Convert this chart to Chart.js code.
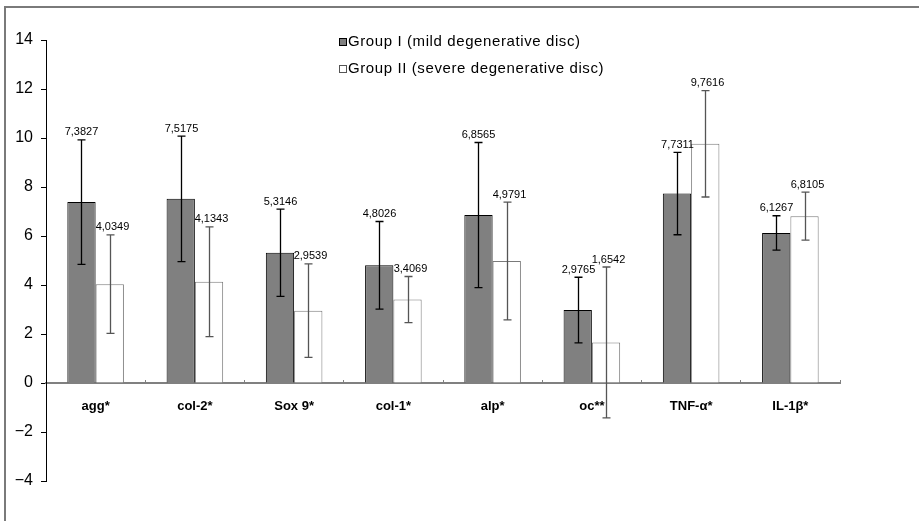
<!DOCTYPE html>
<html>
<head>
<meta charset="utf-8">
<script src="https://cdn.jsdelivr.net/npm/chart.js@4"></script>
<style>
  html, body { margin: 0; padding: 0; background: #fff; }
  #wrap { position: relative; width: 919px; height: 521px; }
  #frame { position: absolute; left: 4px; top: 6px; right: 0; bottom: 0;
           border-top: 2px solid #7a7a7a; border-left: 2px solid #7a7a7a; }
  canvas { position: absolute; left: 0; top: 0; }
</style>
</head>
<body>
<div id="wrap">
  <div id="frame"></div>
  <canvas id="chart"></canvas>
</div>
<script>
const categories = ['agg*', 'col-2*', 'Sox 9*', 'col-1*', 'alp*', 'oc**', 'TNF-α*', 'IL-1β*'];
const seriesNames = ['Group I (mild degenerative disc)', 'Group II (severe degenerative disc)'];
const groupI = [7.3827, 7.5175, 5.3146, 4.8026, 6.8565, 2.9765, 7.7311, 6.1267];
const groupII = [4.0349, 4.1343, 2.9539, 3.4069, 4.9791, 1.6542, 9.7616, 6.8105];
const sdI = [2.54, 2.56, 1.78, 1.79, 2.96, 1.34, 1.68, 0.70];
const sdII = [2.01, 2.24, 1.91, 0.94, 2.40, 3.08, 2.17, 0.98];
const yMin = -4, yMax = 14, yStep = 2;

const FONT = "'Liberation Sans', Arial, sans-serif";
const fmt = v => v.toFixed(4).replace('.', ',');

// error bars + value labels on top of the bars
const errorBars = {
    id: 'errorBars',
    afterDatasetsDraw(chart) {
        const { ctx, scales: { y } } = chart;
        chart.data.datasets.forEach((ds, i) => {
            const meta = chart.getDatasetMeta(i);
            ctx.save();
            ctx.strokeStyle = ds.errColor;
            ctx.lineWidth = 1.3;
            meta.data.forEach((bar, j) => {
                const v = ds.data[j], e = ds.sd[j];
                const x = Math.round(bar.x) + 0.5;
                const top = y.getPixelForValue(v + e);
                const bot = y.getPixelForValue(v - e);
                ctx.beginPath();
                ctx.moveTo(x, top); ctx.lineTo(x, bot);
                ctx.moveTo(x - 4, top); ctx.lineTo(x + 4, top);
                ctx.moveTo(x - 4, bot); ctx.lineTo(x + 4, bot);
                ctx.stroke();
                ctx.fillStyle = '#000';
                ctx.font = `11px ${FONT}`;
                ctx.textAlign = 'center';
                ctx.textBaseline = 'bottom';
                ctx.fillText(fmt(v), x + (i === 1 ? 2 : 0), top - 2);
            });
            ctx.restore();
        });
    }
};

// two-line legend near the top
const stackedLegend = {
    id: 'stackedLegend',
    afterDraw(chart) {
        const { ctx } = chart;
        const x0 = 339, rows = [42, 69];
        ctx.save();
        chart.data.datasets.forEach((ds, i) => {
            const yc = rows[i];
            ctx.fillStyle = ds.backgroundColor;
            ctx.fillRect(x0, yc - 4, 8, 8);
            ctx.strokeStyle = i === 0 ? '#000' : '#555';
            ctx.lineWidth = 1;
            ctx.strokeRect(x0 + 0.5, yc - 3.5, 7, 7);
            ctx.fillStyle = '#000';
            ctx.font = `15px ${FONT}`;
            ctx.letterSpacing = '0.6px';
            ctx.textAlign = 'left';
            ctx.textBaseline = 'middle';
            ctx.fillText(ds.label, x0 + 9, yc);
        });
        ctx.restore();
    }
};

new Chart(document.getElementById('chart'), {
    type: 'bar',
    data: {
        labels: categories,
        datasets: [
            {
                label: seriesNames[0],
                data: groupI,
                sd: sdI,
                errColor: '#000',
                backgroundColor: '#808080',
                borderColor: '#000',
                borderWidth: 1,
                barPercentage: 1,
                categoryPercentage: 0.57
            },
            {
                label: seriesNames[1],
                data: groupII,
                sd: sdII,
                errColor: '#555',
                backgroundColor: '#ffffff',
                borderColor: '#7a7a7a',
                borderWidth: 1,
                barPercentage: 1,
                categoryPercentage: 0.57
            }
        ]
    },
    options: {
        responsive: true,
        maintainAspectRatio: false,
        animation: false,
        layout: { padding: { left: 0, right: 79, top: 40, bottom: 40 } },
        plugins: {
            legend: { display: false },
            tooltip: { enabled: false }
        },
        scales: {
            x: {
                position: { y: 0 },
                afterFit: s => { s.height = 0; },
                border: { color: '#808080', width: 2 },
                grid: { drawOnChartArea: false, tickLength: -4, color: '#808080', offset: true },
                ticks: {
                    padding: 20,
                    color: '#000',
                    font: { family: FONT, size: 13, weight: 'bold' }
                }
            },
            y: {
                min: yMin,
                max: yMax,
                afterFit: s => { s.width = 46; },
                border: { color: '#000', width: 1 },
                grid: { drawOnChartArea: false, tickLength: 5, color: '#000' },
                ticks: {
                    stepSize: yStep,
                    padding: 8,
                    color: '#000',
                    font: { family: FONT, size: 16 },
                    callback: v => String(v).replace('-', '\u2212')
                }
            }
        }
    },
    plugins: [errorBars, stackedLegend]
});
</script>
</body>
</html>
